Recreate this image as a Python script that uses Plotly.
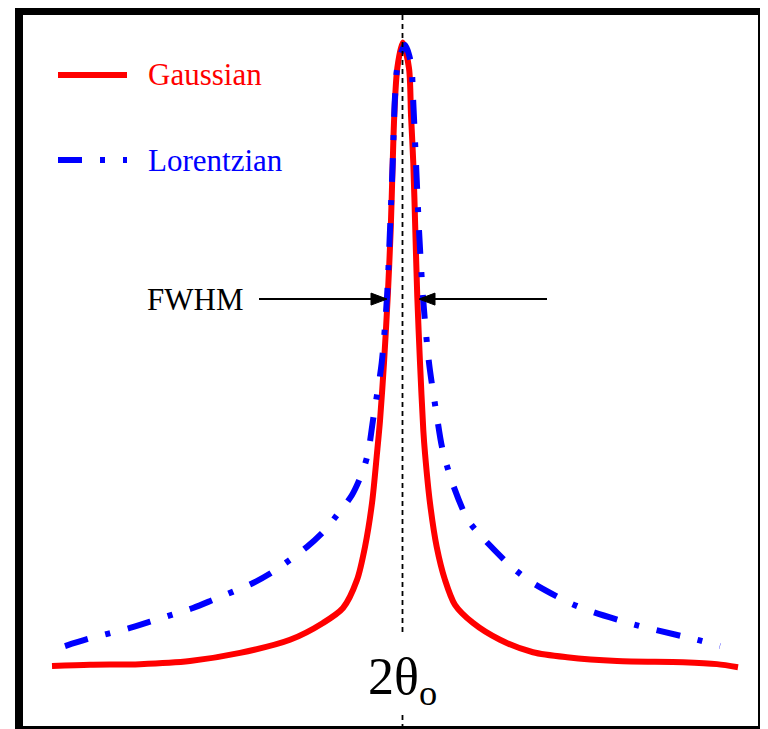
import plotly.graph_objects as go

# ---------------- data (x: 2θ offset from peak, y: normalised intensity) ----------------
gauss_x = [-3.505, -3.125, -2.625, -2.125, -1.625, -1.125, -0.795, -0.595, -0.455, -0.375,
           -0.305, -0.255, -0.225, -0.185, -0.148, -0.118, -0.098, -0.082, -0.052, 0.002,
           0.065, 0.085, 0.108, 0.128, 0.148, 0.175, 0.208, 0.225, 0.275, 0.342,
           0.425, 0.525, 0.705, 0.975, 1.305, 1.645, 2.145, 2.805, 3.145, 3.355]
gauss_y = [0.000, 0.002, 0.003, 0.008, 0.021, 0.042, 0.069, 0.093, 0.138, 0.191,
           0.261, 0.341, 0.393, 0.486, 0.591, 0.699, 0.806, 0.883, 0.958, 0.999,
           0.958, 0.883, 0.806, 0.699, 0.591, 0.486, 0.378, 0.341, 0.261, 0.191,
           0.138, 0.098, 0.069, 0.042, 0.022, 0.014, 0.008, 0.006, 0.003, -0.002]

lorentz_x = [-3.375, -3.155, -2.725, -2.525, -2.095, -1.895, -1.495, -1.295, -0.955, -0.775,
             -0.655, -0.505, -0.405, -0.345, -0.295, -0.208, -0.155, -0.125, -0.098, -0.075,
             -0.045, 0.025, 0.085, 0.105, 0.135, 0.165, 0.205, 0.265, 0.345, 0.395,
             0.495, 0.655, 0.805, 1.105, 1.305, 1.675, 1.895, 2.305, 2.525, 2.945, 3.175]
lorentz_y = [0.032, 0.043, 0.061, 0.071, 0.093, 0.106, 0.133, 0.151, 0.191, 0.218,
             0.242, 0.274, 0.309, 0.341, 0.394, 0.486, 0.591, 0.699, 0.806, 0.912,
             0.966, 0.995, 0.966, 0.912, 0.806, 0.699, 0.591, 0.486, 0.399, 0.351,
             0.295, 0.234, 0.205, 0.157, 0.133, 0.101, 0.087, 0.067, 0.058, 0.042, 0.032]

series_names = ["Gaussian", "Lorentzian"]
peak_label = "2θ<sub>o</sub>"
fwhm_label = "FWHM"
fwhm_level = 0.588
fwhm_left, fwhm_right = -0.155, 0.165

# ---------------- layout helpers (page pixel -> axis units, decoration only) ----------------
OFF = 8                      # page body margin
RIGHT, BOTTOM = 760, 729     # visible page extent
W, H = RIGHT - OFF, BOTTOM - OFF
X0, XS = 402.5, 100.0
Y0, YS = 666.0, 624.0
def X(px): return (px - X0) / XS
def Y(py): return (Y0 - py) / YS
def PX(px): return (px - OFF) / W
def PY(py): return 1 - (py - OFF) / H

FONT = "Liberation Serif, Times New Roman, serif"
RED, BLUE = "#ff0000", "#0000ff"
DASHDOT = "24px,18px,5px,18px"

fig = go.Figure()
fig.add_trace(go.Scatter(x=gauss_x, y=gauss_y, mode="lines", name=series_names[0],
                         line=dict(color=RED, width=6, shape="spline", smoothing=0.8),
                         showlegend=False, hoverinfo="skip"))
fig.add_trace(go.Scatter(x=lorentz_x, y=lorentz_y, mode="lines", name=series_names[1],
                         line=dict(color=BLUE, width=6, dash=DASHDOT, shape="spline", smoothing=0.8),
                         showlegend=False, hoverinfo="skip"))

shapes = []
# centre dotted line (split around the label)
for a, b in [(15, 632), (715, 726)]:
    shapes.append(dict(type="line", xref="x", yref="y", x0=0, x1=0, y0=Y(a), y1=Y(b),
                       line=dict(color="black", width=1.8, dash="5px,4px"), layer="above"))
# frame
blk = dict(fillcolor="black", line=dict(width=0), layer="above")
shapes += [
    dict(type="rect", xref="paper", yref="paper", x0=PX(15), x1=PX(23), y0=PY(729), y1=PY(7), **blk),
    dict(type="rect", xref="paper", yref="paper", x0=PX(15), x1=PX(RIGHT), y0=PY(15), y1=PY(7), **blk),
    dict(type="rect", xref="paper", yref="paper", x0=PX(RIGHT - 2), x1=PX(RIGHT), y0=PY(729), y1=PY(7), **blk),
    dict(type="rect", xref="paper", yref="paper", x0=PX(15), x1=PX(RIGHT), y0=PY(729), y1=PY(726), **blk),
]
# legend samples
shapes.append(dict(type="line", xref="paper", yref="paper", x0=PX(58), x1=PX(127), y0=PY(75), y1=PY(75),
                   line=dict(color=RED, width=6)))
shapes.append(dict(type="line", xref="paper", yref="paper", x0=PX(58), x1=PX(127), y0=PY(160), y1=PY(160),
                   line=dict(color=BLUE, width=6, dash=DASHDOT)))
# FWHM arrows (line + filled head), pointing inwards at the peak
hl, hw = 16 / XS, 6 / YS
for tip, tail, sgn in [(fwhm_left, X(259), -1), (fwhm_right, X(547), 1)]:
    back = tip + sgn * hl
    shapes.append(dict(type="line", xref="x", yref="y", x0=tail, x1=back, y0=fwhm_level, y1=fwhm_level,
                       line=dict(color="black", width=2)))
    shapes.append(dict(type="path", xref="x", yref="y",
                       path=f"M{tip},{fwhm_level} L{back},{fwhm_level + hw} L{back},{fwhm_level - hw} Z",
                       fillcolor="black", line=dict(color="black", width=1)))

annotations = [
    dict(xref="paper", yref="paper", x=PX(146), y=PY(75), text=series_names[0], showarrow=False,
         xanchor="left", yanchor="middle", font=dict(family=FONT, size=31, color=RED)),
    dict(xref="paper", yref="paper", x=PX(146), y=PY(160), text=series_names[1], showarrow=False,
         xanchor="left", yanchor="middle", font=dict(family=FONT, size=31, color=BLUE)),
    dict(xref="x", yref="y", x=X(195), y=fwhm_level, text=fwhm_label, showarrow=False,
         xanchor="center", yanchor="middle", font=dict(family=FONT, size=31, color="black")),
    dict(xref="x", yref="y", x=0, y=Y(680), text=peak_label, showarrow=False,
         xanchor="center", yanchor="middle", font=dict(family=FONT, size=52, color="black")),
]

fig.update_layout(
    width=W, height=H, margin=dict(l=0, r=0, t=0, b=0),
    paper_bgcolor="white", plot_bgcolor="white",
    xaxis=dict(range=[X(OFF), X(RIGHT)], visible=False, fixedrange=True),
    yaxis=dict(range=[Y(BOTTOM), Y(OFF)], visible=False, fixedrange=True),
    shapes=shapes, annotations=annotations, showlegend=False,
)
fig.write_html("out.html")
